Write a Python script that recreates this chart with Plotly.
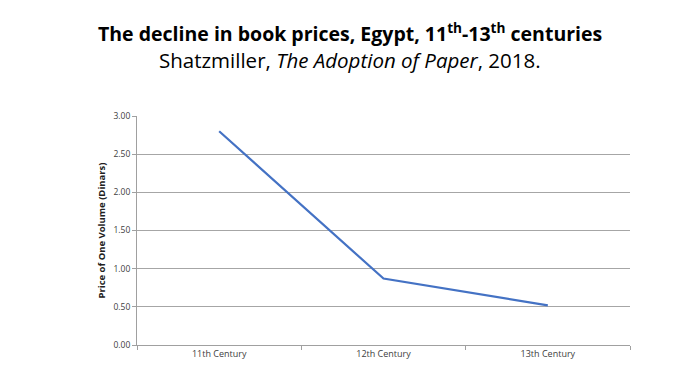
import plotly.graph_objects as go

categories = ["11th Century", "12th Century", "13th Century"]
prices = [2.80, 0.87, 0.52]
y_ticks = [0, 0.5, 1.0, 1.5, 2.0, 2.5, 3.0]
y_tick_labels = ["0.00", "0.50", "1.00", "1.50", "2.00", "2.50", "3.00"]

fig = go.Figure()
fig.add_trace(go.Scatter(
    x=categories, y=prices, mode="lines",
    line=dict(color="#4472C4", width=2.2),
    showlegend=False, hoverinfo="skip"))

fig.update_layout(
    width=700, height=389,
    margin=dict(l=137, r=70, t=116, b=44),
    paper_bgcolor="white", plot_bgcolor="white",
    font=dict(family="Open Sans, sans-serif", color="#404040"),
)
fig.update_xaxes(
    type="category", range=[-0.5, 2.5],
    tickson="boundaries", ticks="outside", ticklen=4, tickcolor="#a0a0a0",
    showline=True, linecolor="#a0a0a0", linewidth=1,
    showgrid=False, tickfont=dict(size=9, color="#404040"),
)
fig.update_yaxes(
    range=[0, 3], tickvals=y_ticks, ticktext=y_tick_labels,
    ticks="outside", ticklen=4, tickcolor="#a0a0a0",
    showline=True, linecolor="#a0a0a0", linewidth=1,
    showgrid=True, gridcolor="#a6a6a6", gridwidth=1, zeroline=False,
    tickfont=dict(size=8.5, color="#404040"),
    title=dict(text="<b>Price of One Volume (Dinars)</b>", font=dict(size=9.5, color="#202020"), standoff=6),
)

fig.add_annotation(
    text="<b>The decline in book prices, Egypt, 11<sup>th</sup>-13<sup>th</sup> centuries</b>",
    xref="paper", yref="paper", x=0.5, xanchor="center", xshift=-33.5,
    y=1.0, yshift=84, yanchor="middle", showarrow=False,
    font=dict(size=19.5, color="black", family="Open Sans, sans-serif"))
fig.add_annotation(
    text="Shatzmiller, <i>The Adoption of Paper</i>, 2018.",
    xref="paper", yref="paper", x=0.5, xanchor="center", xshift=-33.5,
    y=1.0, yshift=56, yanchor="middle", showarrow=False,
    font=dict(size=20.5, color="black", family="Open Sans, sans-serif"))

fig.write_html("out.html", config={"displayModeBar": False},
               post_script="document.body.style.margin='0';")
